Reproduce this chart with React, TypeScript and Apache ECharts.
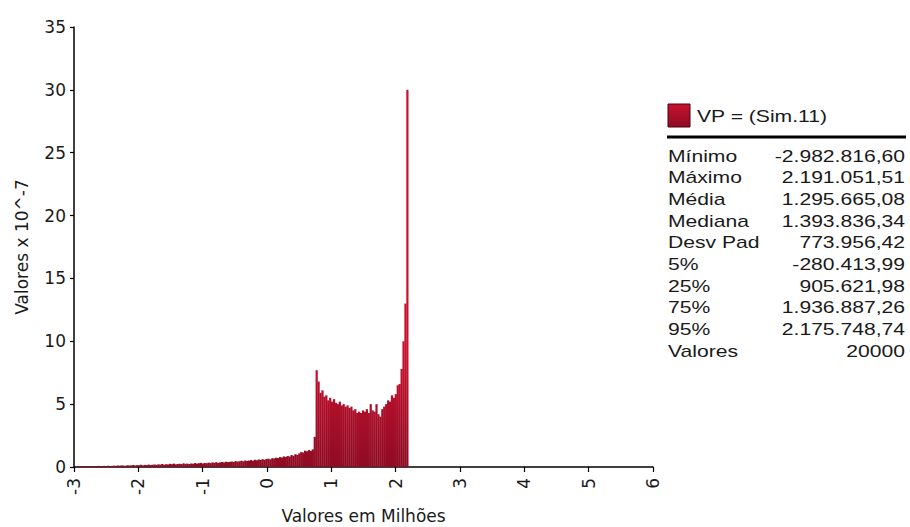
import React, { useEffect, useRef } from "react";
import * as echarts from "echarts";

// Histogram bins (values in millions), density values x 10^-7
const binStart = -2.995;
const binWidth = 0.03;
const density = [
  0.06, 0.05, 0.07, 0.06, 0.08, 0.06, 0.07, 0.05, 0.08, 0.07,
  0.08, 0.07, 0.09, 0.06, 0.08, 0.09, 0.07, 0.1, 0.08, 0.09,
  0.11, 0.09, 0.12, 0.1, 0.13, 0.11, 0.1, 0.14, 0.12, 0.13,
  0.16, 0.12, 0.15, 0.14, 0.18, 0.13, 0.17, 0.15, 0.19, 0.16,
  0.18, 0.2, 0.17, 0.21, 0.19, 0.24, 0.18, 0.22, 0.2, 0.25,
  0.22, 0.27, 0.21, 0.24, 0.26, 0.23, 0.29, 0.25, 0.27, 0.24,
  0.28, 0.26, 0.31, 0.27, 0.3, 0.33, 0.28, 0.32, 0.3, 0.35,
  0.31, 0.36, 0.34, 0.38, 0.33, 0.37, 0.4, 0.36, 0.42, 0.39,
  0.41, 0.44, 0.4, 0.47, 0.43, 0.46, 0.5, 0.45, 0.52, 0.48,
  0.51, 0.55, 0.5, 0.57, 0.54, 0.6, 0.56, 0.62, 0.58, 0.64,
  0.66, 0.61, 0.7, 0.68, 0.74, 0.71, 0.79, 0.75, 0.84, 0.8,
  0.88, 0.83, 0.95, 0.9, 1.02, 0.96, 1.08, 1.2, 1.15, 1.3,
  1.25, 1.35, 1.28, 1.4, 2.4,
  7.7, 6.8, 5.9, 6.1, 5.6, 5.7, 5.3, 5.5, 5.2, 5.4,
  5.1, 5.0, 5.2, 4.9, 5.0, 4.8, 4.9, 4.7, 4.8, 4.5,
  4.6, 4.3, 4.4, 4.3, 4.5, 4.4, 4.6, 4.3, 5.0, 4.5,
  4.4, 5.0, 4.2, 4.0, 4.6, 4.8, 5.0, 5.3, 5.2, 5.7,
  5.5, 5.8, 6.5, 6.6, 7.8, 10.0, 13.0, 30.0,
];

const seriesName = "VP = (Sim.11)";
const statLabels = ["Mínimo", "Máximo", "Média", "Mediana", "Desv Pad", "5%", "25%", "75%", "95%", "Valores"];
const statValues = [
  "-2.982.816,60",
  "2.191.051,51",
  "1.295.665,08",
  "1.393.836,34",
  "773.956,42",
  "-280.413,99",
  "905.621,98",
  "1.936.887,26",
  "2.175.748,74",
  "20000",
];

const AXFONT = "'DejaVu Sans', 'Liberation Sans', Arial, sans-serif";
const PANELFONT = "'Liberation Sans', Arial, sans-serif";
const TXT = "#1a1a1a";

export default function App() {
  const ref = useRef<HTMLDivElement>(null);
  useEffect(() => {
    if (!ref.current) return;
    const chart = echarts.init(ref.current, null, { renderer: "svg" });
    const data = density.map((d, i) => [binStart + i * binWidth, binStart + (i + 1) * binWidth, d]);
    const grad = new echarts.graphic.LinearGradient(
      0, 360, 0, 467,
      [
        { offset: 0, color: "#c8122f" },
        { offset: 1, color: "#8e0b23" },
      ],
      true
    );
    const boxGrad = new echarts.graphic.LinearGradient(0, 0, 0, 1, [
      { offset: 0, color: "#c8122f" },
      { offset: 1, color: "#8e0b23" },
    ]);
    const rowY0 = 156;
    const rowStep = 21.7;
    const sx = 1.32;
    const graphics: any[] = [
      {
        type: "rect",
        shape: { x: 668, y: 104, width: 22, height: 23 },
        style: { fill: boxGrad, stroke: "#4a0410", lineWidth: 1 },
      },
      {
        type: "text",
        x: 697,
        y: 116,
        scaleX: sx,
        style: { text: seriesName, font: `16px ${PANELFONT}`, fill: TXT, textAlign: "left", textVerticalAlign: "middle" },
      },
      {
        type: "line",
        shape: { x1: 667, y1: 137, x2: 906, y2: 137 },
        style: { stroke: "#000", lineWidth: 3 },
      },
    ];
    statLabels.forEach((l, k) => {
      graphics.push({
        type: "text",
        x: 668,
        y: rowY0 + k * rowStep,
        scaleX: sx,
        style: { text: l, font: `16px ${PANELFONT}`, fill: TXT, textAlign: "left", textVerticalAlign: "middle" },
      });
      graphics.push({
        type: "text",
        x: 905,
        y: rowY0 + k * rowStep,
        scaleX: sx,
        style: { text: statValues[k], font: `16px ${PANELFONT}`, fill: TXT, textAlign: "right", textVerticalAlign: "middle" },
      });
    });
    chart.setOption({
      animation: false,
      backgroundColor: "#fff",
      grid: { left: 74, right: 257, top: 27, bottom: 60, containLabel: false, outerBoundsMode: "none" },
      xAxis: {
        type: "value",
        min: -3,
        max: 6,
        interval: 1,
        splitLine: { show: false },
        axisLine: { show: true, onZero: false, lineStyle: { color: "#000", width: 1.5 } },
        axisTick: { show: true, length: 5, lineStyle: { color: "#000", width: 1.2 } },
        axisLabel: { rotate: 90, margin: 11, fontSize: 17, fontFamily: AXFONT, color: TXT },
        name: "Valores em Milhões",
        nameLocation: "middle",
        nameGap: 40,
        nameTextStyle: { fontSize: 17, fontFamily: AXFONT, color: TXT },
      },
      yAxis: {
        type: "value",
        min: 0,
        max: 35,
        interval: 5,
        splitLine: { show: false },
        axisLine: { show: true, onZero: false, lineStyle: { color: "#000", width: 1.5 } },
        axisTick: { show: true, length: 4, lineStyle: { color: "#000", width: 1.2 } },
        axisLabel: { margin: 8, fontSize: 17, fontFamily: AXFONT, color: TXT },
        name: "Valores x 10^-7",
        nameLocation: "middle",
        nameGap: 44,
        nameRotate: 90,
        nameTextStyle: { fontSize: 17, fontFamily: AXFONT, color: TXT },
      },
      series: [
        {
          type: "custom",
          name: seriesName,
          encode: { x: [0, 1], y: 2 },
          itemStyle: { color: "#b0102b" },
          renderItem: (params: any, api: any) => {
            const x0 = api.value(0);
            const x1 = api.value(1);
            const y = api.value(2);
            const p0 = api.coord([x0, y]);
            const p1 = api.coord([x1, 0]);
            return {
              type: "rect",
              shape: { x: p0[0], y: p0[1], width: p1[0] - p0[0] + 0.3, height: p1[1] - p0[1] },
              style: { fill: grad },
            };
          },
          data,
          z: 1,
        },
      ],
      graphic: graphics,
    });
    return () => chart.dispose();
  }, []);
  return <div ref={ref} style={{ position: "fixed", left: 0, top: 0, width: 910, height: 527 }} />;
}
